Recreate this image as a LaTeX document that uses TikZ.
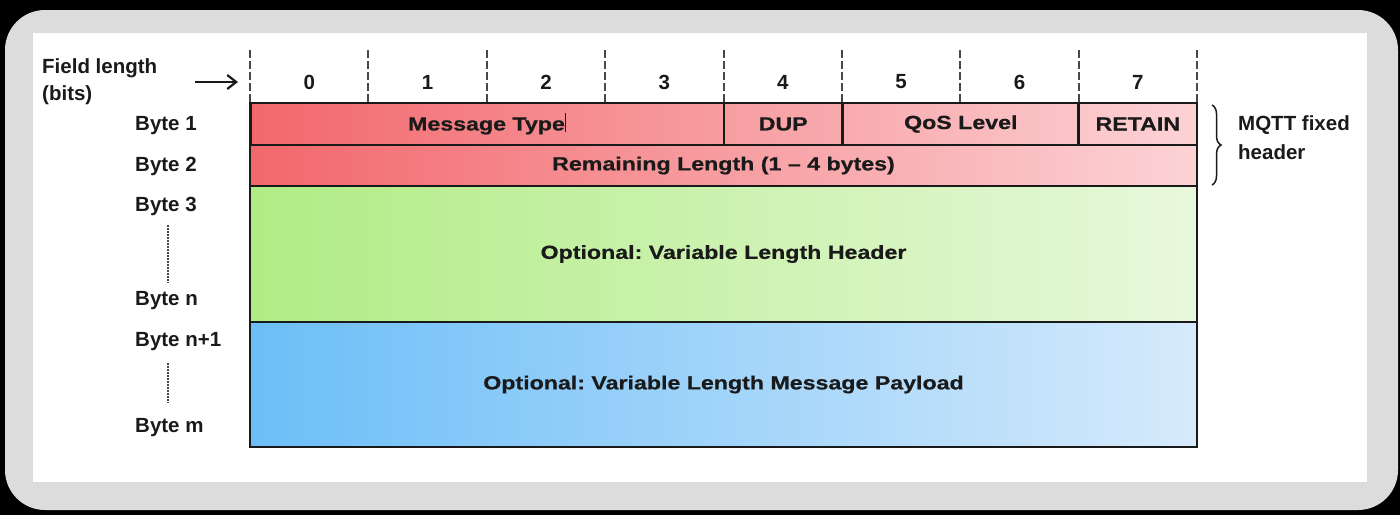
\documentclass[tikz,border=0pt]{standalone}
\usepackage{fontspec}
\setmainfont{Liberation Sans}
\newfontfamily\widefont[FakeStretch=1.22,FakeBold=0.6,Ligatures=TeX]{Liberation Sans}
\usetikzlibrary{decorations.pathreplacing,arrows.meta}
\definecolor{frame}{HTML}{DCDCDC}
\definecolor{redL}{HTML}{F2676C}
\definecolor{redR}{HTML}{FCD3D6}
\definecolor{grnL}{HTML}{B0EC84}
\definecolor{grnR}{HTML}{E8F8DC}
\definecolor{bluL}{HTML}{6CBEF8}
\definecolor{bluR}{HTML}{D6EAFB}
\definecolor{ink}{HTML}{1A1A1A}
\frenchspacing
\tikzset{
  lbl/.style={font=\fontsize{20.5}{24}\selectfont\bfseries, text=ink, inner sep=0pt},
  lblL/.style={lbl, anchor=west},
  field/.style={draw=ink, line width=2.5pt, inner sep=0pt, font=\widefont\fontsize{19}{22}\selectfont\bfseries, text=ink},
  tick/.style={draw=ink!80, line width=2pt, dash pattern=on 8pt off 3pt},
  dots/.style={draw=ink!80, line width=2.2pt, dash pattern=on 1.5pt off 1.5pt},
}
\begin{document}
\begin{tikzpicture}[x=1pt,y=-1pt]
\useasboundingbox (0,0) rectangle (1400,515);
% backdrop and panel
\fill[black] (0,0) rectangle (1400,515);
\fill[frame] (5,10) [rounded corners=40pt] rectangle (1398,510);
\fill[white] (33,33) rectangle (1367,482);

% row backgrounds
\shade[left color=redL, right color=redR] (250,103) rectangle (1197,186);
\shade[left color=grnL, right color=grnR] (250,186) rectangle (1197,322);
\shade[left color=bluL, right color=bluR] (250,322) rectangle (1197,447);

% bit ticks and numbers
\foreach \i in {0,...,8} {
  \coordinate (t\i) at (250+118.375*\i,50);
  \coordinate (b\i) at (250+118.375*\i,103);
  \draw[tick] (t\i) -- (b\i);
}
\foreach \i in {0,...,7} {
  \node[lbl] (n\i) at (309.2+118.375*\i,82) {\i};
}

% byte 1 fields
\node[field, minimum width=473.5pt, minimum height=42pt] (mt) at (487,124) {Message Type\rule[-2pt]{1pt}{19pt}};
\node[field, minimum width=118.4pt, minimum height=42pt] (dup) at (783.2,124) {DUP};
\node[field, minimum width=236.8pt, minimum height=42pt] (qos) at (960.8,124) {QoS Level};
\node[field, minimum width=118.4pt, minimum height=42pt] (ret) at (1137.8,124) {RETAIN};
% byte 2
\node[field, minimum width=947pt, minimum height=41pt] (rl) at (723.5,165.5) {Remaining Length (1 – 4 bytes)};
% variable header and payload
\node[field, minimum width=947pt, minimum height=136pt] (vh) at (723.5,254) {Optional: Variable Length Header};
\node[field, minimum width=947pt, minimum height=125pt] (pl) at (723.5,384.5) {Optional: Variable Length Message Payload};

% left labels
\node[lblL] (fl) at (42,68) {Field length};
\node[lblL] (bits) at (42,95) {(bits)};
\coordinate (arrS) at (195,82);
\coordinate (arrE) at (238,82);
\draw[-{Straight Barb[length=9pt,width=14pt,line width=2.2pt]}, line width=2.2pt, ink] (arrS) -- (arrE);
\node[lblL] (by1) at (135,126) {Byte 1};
\node[lblL] (by2) at (135,166) {Byte 2};
\node[lblL] (by3) at (135,206) {Byte 3};
\node[lblL] (byn) at (135,301) {Byte n};
\node[lblL] (byn1) at (135,342) {Byte n+1};
\node[lblL] (bym) at (135,428) {Byte m};
\draw[dots] (168,225) -- (168,283);
\draw[dots] (168,363) -- (168,403);

% fixed header brace
\draw[decorate, decoration={brace, amplitude=9pt}, line width=1.5pt, ink]
  (1212,105) -- (1212,185);
\node[lblL] (mq) at (1238,125) {MQTT fixed};
\node[lblL] (hd) at (1238,152) {header};
\end{tikzpicture}
\end{document}
